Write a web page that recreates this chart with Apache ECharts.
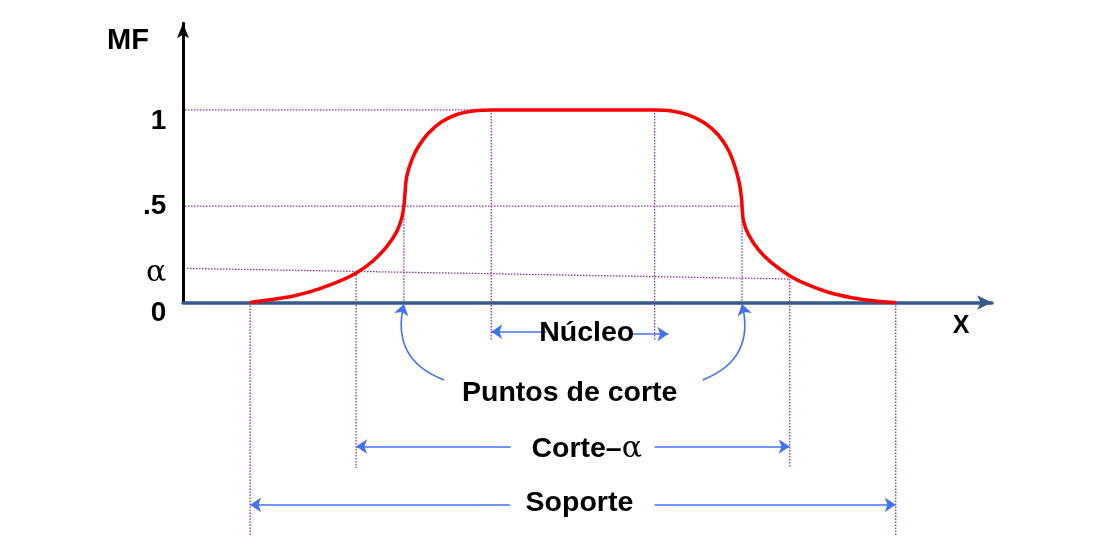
<!DOCTYPE html>
<html>
<head>
<meta charset="utf-8">
<script src="https://cdn.jsdelivr.net/npm/echarts@6/dist/echarts.min.js"></script>
<style>
html,body{margin:0;padding:0;background:#fff;}
#chart{width:1108px;height:544px;}
</style>
</head>
<body>
<div id="chart"></div>
<script>
// ---- Membership function (MF) curve ----
const curveX = [8.3, 11.16, 13.23, 15.29, 17.34, 19.41, 21.47, 23.52, 25.18, 26.42, 27.03, 27.3,
  27.44, 27.65, 28.27, 29.08, 30.32, 31.98, 34.03, 36.09, 38.1,
  58.3, 60.40, 62.46, 64.52, 66.17, 67.41, 68.23, 68.77, 69.06, 69.1,
  69.30, 69.92, 71.15, 72.81, 75.03, 77.29, 79.77, 82.66, 85.54, 88.1];
const curveY = [0, 0.017, 0.030, 0.051, 0.079, 0.112, 0.155, 0.217, 0.290, 0.368, 0.437, 0.5,
  0.567, 0.654, 0.740, 0.809, 0.879, 0.939, 0.979, 0.996, 1.0,
  1.0, 0.995, 0.974, 0.931, 0.870, 0.792, 0.705, 0.619, 0.532, 0.5,
  0.420, 0.351, 0.273, 0.204, 0.138, 0.091, 0.053, 0.025, 0.008, 0];

// ---- key x positions ----
const supportX = [8.3, 88.1];
const alphaCutX = [21.4, 75.0];
const crossX = [27.3, 69.1];
const coreX = [38.1, 58.3];

// ---- levels ----
const levelOne = 1;
const levelHalf = 0.5;
const alphaLevel = [0.177, 0.122];      // guide drawn slightly slanted (left end, right end)
const alphaAtCut = [0.158, 0.122];

// ---- y tick labels ----
const yTickLabels = ['1', '.5', 'α', '0'];
const yTickValues = [0.943, 0.501, 0.150, -0.054];

// ---- annotation texts ----
const annoTexts = ['Núcleo', 'Puntos de corte', 'Corte–α', 'Soporte'];
const annoX = [49.9, 47.8, 49.9, 49.0];
const annoY = [-0.158, -0.472, -0.760, -1.040];

// ---- bottom ends of the guide lines ----
const coreGuideBottom = -0.195;
const alphaGuideBottom = -0.859;
const supportGuideBottom = -1.207;

// ---- arrows (from, to) ----
const arrowSegments = [
  [[44.9, -0.1515], [coreX[0], -0.1515]],
  [[55.4, -0.1635], [60.0, -0.1635]],
  [[40.5, -0.748], [alphaCutX[0], -0.748]],
  [[58.3, -0.748], [alphaCutX[1], -0.748]],
  [[40.4, -1.051], [supportX[0], -1.051]],
  [[58.3, -1.051], [supportX[1], -1.051]]
];
const curvedArrows = [
  [[32.26, -0.402], [crossX[0], -0.008], 0.44],
  [[64.24, -0.402], [crossX[1], -0.008], -0.44]
];

const PURPLE = '#a02cb0';
const BLUE = '#4472f5';
const RED = '#ff0000';
const AXISBLUE = '#355a8a';
const BLACK = '#000000';
const FONT = "'Liberation Sans', Arial, sans-serif";
const SERIF = "'DejaVu Serif', 'Liberation Serif', serif";

const dotted = {color: PURPLE, width: 1.3, type: [1.5, 1.5]};
function guide(p1, p2) {
  return {type: 'line', data: [p1, p2], symbol: 'none', clip: false, silent: true,
    lineStyle: dotted, z: 1, animation: false};
}

const guides = [
  guide([0.25, levelOne], [coreX[0], levelOne]),
  guide([0.25, levelHalf], [crossX[1], levelHalf]),
  guide([0.5, alphaLevel[0]], [alphaCutX[1], alphaLevel[1]]),
  guide([supportX[0], 0], [supportX[0], supportGuideBottom]),
  guide([supportX[1], 0], [supportX[1], supportGuideBottom]),
  guide([alphaCutX[0], alphaAtCut[0]], [alphaCutX[0], alphaGuideBottom]),
  guide([alphaCutX[1], alphaAtCut[1]], [alphaCutX[1], alphaGuideBottom]),
  guide([crossX[0], levelHalf], [crossX[0], 0]),
  guide([crossX[1], levelHalf], [crossX[1], 0]),
  guide([coreX[0], levelOne], [coreX[0], coreGuideBottom]),
  guide([coreX[1], levelOne], [coreX[1], coreGuideBottom])
];

const textItems = [];
textItems.push({value: [-6.8, 1.357], label: {show: true, position: 'inside', formatter: 'MF',
  fontSize: 29, fontWeight: 'bold', fontFamily: FONT, color: BLACK}});
yTickLabels.forEach((t, i) => {
  const isAlpha = t === 'α';
  textItems.push({value: [-2.0, yTickValues[i]], label: {show: true, position: 'left', distance: 0, formatter: t,
    color: BLACK, fontSize: isAlpha ? 30 : 28, fontWeight: isAlpha ? 'normal' : 'bold',
    fontFamily: isAlpha ? SERIF : FONT}});
});
annoTexts.forEach((t, i) => {
  let formatter = '{a|' + t + '}';
  if (t.indexOf('α') >= 0) {
    const parts = t.split('–');
    formatter = '{a|' + parts[0] + '–}{b|' + parts[1] + '}';
  }
  textItems.push({value: [annoX[i], annoY[i]], label: {show: true, position: 'inside', formatter: formatter,
    color: BLACK,
    rich: {a: {fontSize: 28.5, fontWeight: 'bold', fontFamily: FONT, color: BLACK},
           b: {fontSize: 30, fontWeight: 'normal', fontFamily: SERIF, color: BLACK}}}});
});
textItems.push({value: [96.17, -0.125], label: {show: true, position: 'inside', formatter: 'X',
  fontSize: 25, fontWeight: 'bold', fontFamily: FONT, color: BLACK}});

const chart = echarts.init(document.getElementById('chart'), null, {renderer: 'canvas'});
chart.setOption({
  animation: false,
  backgroundColor: '#fff',
  grid: {left: 183, right: 116, top: 23.3, bottom: 241.5, containLabel: false},
  xAxis: {
    type: 'value', min: 0, max: 100,
    axisLine: {show: true, onZero: false, symbol: ['none', 'arrow'], symbolSize: [11, 15],
      lineStyle: {color: AXISBLUE, width: 3.5}},
    axisTick: {show: false}, axisLabel: {show: false}, splitLine: {show: false}
  },
  yAxis: {
    type: 'value', min: 0, max: 1.45,
    axisLine: {show: true, symbol: ['none', 'arrow'], symbolSize: [9, 15],
      lineStyle: {color: BLACK, width: 3}},
    axisTick: {show: false}, axisLabel: {show: false}, splitLine: {show: false}
  },
  series: [
    ...guides,
    {
      type: 'line', data: curveX.map((x, i) => [x, curveY[i]]), symbol: 'none', smooth: 0.35,
      lineStyle: {color: RED, width: 3.5}, z: 5, clip: false
    },
    {
      type: 'lines', coordinateSystem: 'cartesian2d', clip: false, z: 4, silent: true,
      symbol: ['none', 'arrow'], symbolSize: 11,
      lineStyle: {color: BLUE, width: 1.6, opacity: 1},
      data: arrowSegments.map(s => ({coords: s})).concat(
        curvedArrows.map(c => ({coords: [c[0], c[1]], lineStyle: {curveness: c[2]}})))
    },
    {
      type: 'scatter', data: textItems, symbolSize: 1, clip: false, silent: true, z: 6,
      itemStyle: {color: 'transparent', opacity: 1},
      emphasis: {disabled: true},
      label: {show: true, color: BLACK, opacity: 1, fontWeight: 'bold', fontFamily: FONT, fontSize: 28}
    }
  ]
});
</script>
</body>
</html>
